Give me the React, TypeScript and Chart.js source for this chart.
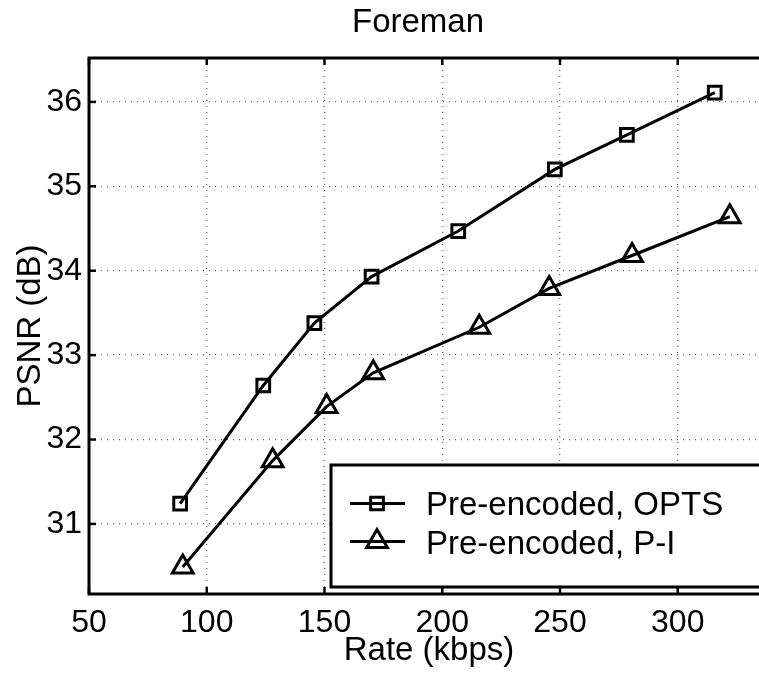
import React, { useEffect, useRef } from "react";
import { Chart, registerables } from "chart.js";

Chart.register(...registerables);

const titleText = "Foreman";
const xLabel = "Rate (kbps)";
const yLabel = "PSNR (dB)";
const optsLabel = "Pre-encoded, OPTS";
const piLabel = "Pre-encoded, P-I";

const optsRate = [88.7, 124.0, 145.7, 170.0, 206.8, 247.8, 278.4, 315.7];
const optsPsnr = [31.24, 32.64, 33.38, 33.93, 34.47, 35.2, 35.61, 36.11];
const piRate = [89.8, 128.0, 150.9, 170.7, 215.7, 245.4, 280.6, 322.1];
const piPsnr = [30.49, 31.75, 32.39, 32.79, 33.33, 33.79, 34.18, 34.64];

const xTicks = [50, 100, 150, 200, 250, 300];
const yTicks = [31, 32, 33, 34, 35, 36];
const xMin = 50;
const xMax = 334.5;
const yMin = 30.17;
const yMax = 36.52;

const FONT = "'Liberation Sans', Arial, Helvetica, sans-serif";

function drawMarker(ctx: CanvasRenderingContext2D, style: string, x: number, y: number, r: number) {
  ctx.beginPath();
  if (style === "rect") {
    const s = Math.SQRT1_2 * r;
    ctx.rect(x - s, y - s, 2 * s, 2 * s);
  } else {
    for (let i = 0; i < 3; i++) {
      const a = (i * 2 * Math.PI) / 3;
      const px = x + Math.sin(a) * r;
      const py = y - Math.cos(a) * r;
      if (i === 0) ctx.moveTo(px, py);
      else ctx.lineTo(px, py);
    }
    ctx.closePath();
  }
  ctx.stroke();
}

const framePlugin = {
  id: "matlabFrame",
  beforeDraw(chart: any) {
    const ctx = chart.ctx;
    ctx.save();
    ctx.fillStyle = "#fff";
    ctx.fillRect(0, 0, chart.width, chart.height);
    ctx.restore();
  },
  afterDraw(chart: any) {
    const ctx: CanvasRenderingContext2D = chart.ctx;
    const { left, top, right, bottom } = chart.chartArea;
    const xs = chart.scales.x;
    const ys = chart.scales.y;
    ctx.save();
    ctx.strokeStyle = "#000";
    ctx.lineCap = "butt";
    // inward tick marks
    ctx.lineWidth = 2.5;
    xTicks.forEach((v) => {
      const px = xs.getPixelForValue(v);
      ctx.beginPath();
      ctx.moveTo(px, bottom);
      ctx.lineTo(px, bottom - 7);
      ctx.moveTo(px, top);
      ctx.lineTo(px, top + 7);
      ctx.stroke();
    });
    yTicks.forEach((v) => {
      const py = ys.getPixelForValue(v);
      ctx.beginPath();
      ctx.moveTo(left, py);
      ctx.lineTo(left + 7, py);
      ctx.stroke();
    });
    // frame
    ctx.lineWidth = 3;
    ctx.lineCap = "square";
    ctx.beginPath();
    ctx.moveTo(right + 5, top);
    ctx.lineTo(left, top);
    ctx.lineTo(left, bottom);
    ctx.lineTo(right + 5, bottom);
    ctx.stroke();

    // legend
    const lx = 331, ly = 465, lb = 587;
    ctx.fillStyle = "#fff";
    ctx.fillRect(lx, ly, chart.width - lx + 10, lb - ly);
    ctx.lineWidth = 3;
    ctx.lineCap = "butt";
    ctx.strokeRect(lx, ly, chart.width - lx + 10, lb - ly);
    const rows = [
      { ds: chart.data.datasets[0], y: 503.5, base: 515 },
      { ds: chart.data.datasets[1], y: 541.5, base: 553.5 },
    ];
    rows.forEach((row) => {
      ctx.lineWidth = 3;
      ctx.beginPath();
      ctx.moveTo(350, row.y);
      ctx.lineTo(405, row.y);
      ctx.stroke();
      drawMarker(ctx, row.ds.pointStyle, 377, row.y, row.ds.pointRadius);
      ctx.fillStyle = "#000";
      ctx.font = `33px ${FONT}`;
      ctx.textAlign = "left";
      ctx.textBaseline = "alphabetic";
      ctx.fillText(row.ds.label, 426, row.base);
    });

    // title and axis labels
    ctx.fillStyle = "#000";
    ctx.font = `33px ${FONT}`;
    ctx.textAlign = "center";
    ctx.textBaseline = "alphabetic";
    ctx.fillText(titleText, 418, 31.5);
    ctx.fillText(xLabel, 429, 660);
    ctx.save();
    ctx.translate(40, 326);
    ctx.rotate(-Math.PI / 2);
    ctx.fillText(yLabel, 0, 0);
    ctx.restore();
    ctx.restore();
  },
};

export default function App() {
  const ref = useRef<HTMLCanvasElement | null>(null);
  useEffect(() => {
    if (!ref.current) return;
    const chart = new Chart(ref.current, {
      type: "scatter",
      data: {
        datasets: [
          {
            label: optsLabel,
            data: optsRate.map((x, i) => ({ x, y: optsPsnr[i] })),
            showLine: true,
            borderColor: "#000",
            borderWidth: 3,
            pointStyle: "rect",
            pointRadius: 9,
            pointHoverRadius: 9,
            pointBorderWidth: 3,
            pointBorderColor: "#000",
            pointBackgroundColor: "rgba(0,0,0,0)",
            tension: 0,
          },
          {
            label: piLabel,
            data: piRate.map((x, i) => ({ x, y: piPsnr[i] })),
            showLine: true,
            borderColor: "#000",
            borderWidth: 3,
            pointStyle: "triangle",
            pointRadius: 12,
            pointHoverRadius: 12,
            pointBorderWidth: 3,
            pointBorderColor: "#000",
            pointBackgroundColor: "rgba(0,0,0,0)",
            tension: 0,
          },
        ] as any,
      },
      options: {
        animation: false,
        responsive: false,
        devicePixelRatio: 1,
        layout: { autoPadding: false, padding: { top: 58, left: 0, right: 0, bottom: 0 } },
        plugins: {
          legend: { display: false },
          title: { display: false },
          tooltip: { enabled: false },
        },
        scales: {
          x: {
            type: "linear",
            min: xMin,
            max: xMax,
            afterBuildTicks: (s: any) => {
              s.ticks = xTicks.map((v) => ({ value: v }));
            },
            afterFit: (s: any) => {
              s.height = 80;
              s.paddingLeft = 0;
              s.paddingRight = 0;
            },
            ticks: {
              font: { size: 32, family: FONT },
              color: "#000",
              padding: 10,
              maxRotation: 0,
              autoSkip: false,
            },
            grid: { color: "#666", lineWidth: 1.3, drawTicks: false },
            border: { display: false, dash: [1, 5] },
          },
          y: {
            type: "linear",
            min: yMin,
            max: yMax,
            afterBuildTicks: (s: any) => {
              s.ticks = yTicks.map((v) => ({ value: v }));
            },
            afterFit: (s: any) => {
              s.width = 89;
              s.paddingTop = 0;
              s.paddingBottom = 0;
            },
            ticks: {
              font: { size: 32, family: FONT },
              color: "#000",
              padding: 7,
              autoSkip: false,
            },
            grid: { color: "#666", lineWidth: 1.3, drawTicks: false },
            border: { display: false, dash: [1, 5] },
          },
        },
      } as any,
      plugins: [framePlugin],
    });
    return () => chart.destroy();
  }, []);
  return (
    <div style={{ position: "absolute", left: 0, top: 0, width: 759, height: 674, background: "#fff", overflow: "hidden" }}>
      <canvas ref={ref} width={759} height={674} style={{ display: "block", width: 759, height: 674 }} />
    </div>
  );
}
